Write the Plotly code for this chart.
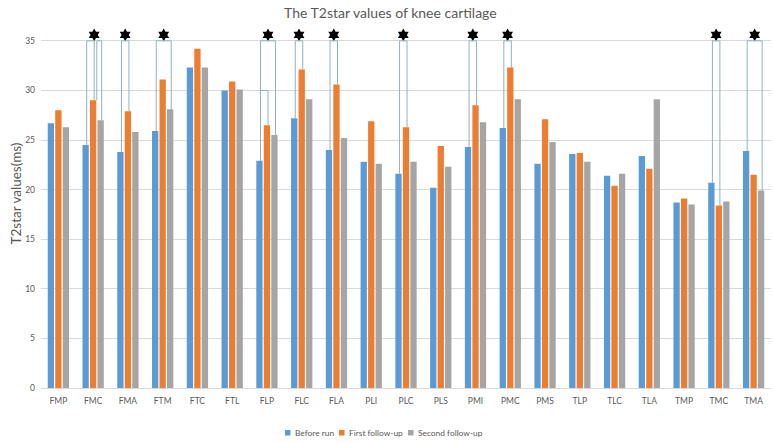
import plotly.graph_objects as go

# ---------------- data ----------------
categories = ["FMP", "FMC", "FMA", "FTM", "FTC", "FTL", "FLP", "FLC", "FLA", "PLI", "PLC",
              "PLS", "PMI", "PMC", "PMS", "TLP", "TLC", "TLA", "TMP", "TMC", "TMA"]
before_run = [26.7, 24.5, 23.8, 25.9, 32.3, 30.0, 22.9, 27.2, 24.0, 22.8, 21.6,
              20.2, 24.3, 26.2, 22.6, 23.6, 21.4, 23.4, 18.7, 20.7, 23.9]
first_follow_up = [28.0, 29.0, 27.9, 31.1, 34.2, 30.9, 26.5, 32.1, 30.6, 26.9, 26.3,
                   24.4, 28.5, 32.3, 27.1, 23.7, 20.4, 22.1, 19.1, 18.4, 21.5]
second_follow_up = [26.3, 27.0, 25.8, 28.1, 32.3, 30.1, 25.5, 29.1, 25.2, 22.6, 22.8,
                    22.3, 26.8, 29.1, 24.8, 22.8, 21.6, 29.1, 18.5, 18.8, 19.9]
series_names = ["Before run", "First follow-up", "Second follow-up"]
y_ticks = [0, 5, 10, 15, 20, 25, 30, 35]

# significance brackets: (category, left series index, right series index, level)
brackets = [("FMC", 0, 1, 35), ("FMC", 1, 2, 35), ("FMA", 0, 1, 35), ("FTM", 0, 2, 35),
            ("FLP", 0, 2, 35), ("FLP", 0, 1, 30), ("FLC", 0, 1, 35), ("FLA", 0, 1, 35),
            ("PLC", 0, 1, 35), ("PMI", 0, 1, 35), ("PMC", 0, 1, 35), ("TMC", 0, 1, 35),
            ("TMA", 0, 2, 35)]

# ---------------- style ----------------
colors = ["#5B9BD5", "#ED7D31", "#A5A5A5"]
FONT = "Lato, 'Open Sans', sans-serif"
TXT = "#595959"
BRACKET_COLOR = "#8DB3C3"
BARGAP, BARGROUPGAP = 0.353, 0.16
SLOT = (1 - BARGAP) / 3
NUDGE = 0.03
W, H = 773, 442
ML, MR, MT, MB = 41, 2, 21, 54

series = [before_run, first_follow_up, second_follow_up]
xs = list(range(len(categories)))

fig = go.Figure()
for name, vals, col in zip(series_names, series, colors):
    fig.add_trace(go.Bar(x=xs, y=vals, name=name, marker_color=col,
                         marker_line_width=0, showlegend=False))

# brackets
shapes = []
star_spans = {}
right_ends = {}
for cat, a, b, lvl in brackets:
    right_ends.setdefault((cat, lvl), set()).add(b)
for cat, a, b, lvl in brackets:
    i = categories.index(cat)
    extra = 0.075 if a in right_ends.get((cat, lvl), set()) else 0.0
    xl = i + (a - 1) * SLOT + NUDGE + extra
    xr = i + (b - 1) * SLOT + NUDGE
    yl = series[a][i]
    yr = series[b][i]
    line = dict(color=BRACKET_COLOR, width=1)
    shapes.append(dict(type="line", xref="x", yref="y", x0=xl, x1=xl, y0=yl, y1=lvl, line=line))
    shapes.append(dict(type="line", xref="x", yref="y", x0=xr, x1=xr, y0=yr, y1=lvl, line=line))
    shapes.append(dict(type="line", xref="x", yref="y", x0=xl, x1=xr, y0=lvl, y1=lvl, line=line))
    if lvl == max(y_ticks):
        lo, hi = star_spans.get(cat, (xl, xr))
        star_spans[cat] = (min(lo, xl), max(hi, xr))

star_x = [(lo + hi) / 2 for lo, hi in star_spans.values()]
fig.add_trace(go.Scatter(x=star_x, y=[35.6] * len(star_x), mode="markers",
                         marker=dict(symbol="hexagram", size=9.5, color="black"),
                         cliponaxis=False, showlegend=False, hoverinfo="skip"))

# custom legend (Excel-like compact)
plot_w = W - ML - MR
plot_h = H - MT - MB
def px_x(px):
    return (px - ML) / plot_w
def px_y(py):
    return (H - MB - py) / plot_h

legend_pos = [285, 339, 408]
annotations = []
for name, col, lx in zip(series_names, colors, legend_pos):
    shapes.append(dict(type="rect", xref="paper", yref="paper",
                       x0=px_x(lx), x1=px_x(lx + 5.5), y0=px_y(435.5), y1=px_y(430),
                       fillcolor=col, line=dict(width=0)))
    annotations.append(dict(text=name, xref="paper", yref="paper", x=px_x(lx + 7.5), y=px_y(432.8),
                            xanchor="left", yanchor="middle", showarrow=False,
                            font=dict(family=FONT, size=8.4, color=TXT)))

# y-axis title
annotations.append(dict(text="T2star values(ms)", xref="paper", yref="paper",
                        x=px_x(15.5), y=px_y(194), xanchor="center", yanchor="middle",
                        textangle=-90, showarrow=False,
                        font=dict(family=FONT, size=13.5, color=TXT)))

fig.update_layout(
    width=W, height=H,
    margin=dict(l=ML, r=MR, t=MT, b=MB),
    paper_bgcolor="white", plot_bgcolor="white",
    barmode="group", bargap=BARGAP, bargroupgap=BARGROUPGAP,
    title=dict(text="The T2star values of knee cartilage", x=0.505, xanchor="center",
               y=1 - 13 / H, yanchor="middle", yref="container",
               font=dict(family=FONT, size=14, color=TXT)),
    font=dict(family=FONT, color=TXT),
    shapes=shapes, annotations=annotations,
    showlegend=False,
)
fig.update_xaxes(range=[-0.5, len(categories) - 0.5], tickvals=xs, ticktext=categories,
                 showgrid=False, zeroline=False, showline=True, linecolor="#D9D9D9",
                 ticks="", tickfont=dict(family=FONT, size=8.5, color=TXT), ticklabelstandoff=5)
fig.update_yaxes(range=[0, 37], tickvals=y_ticks, showgrid=True, gridcolor="#D9D9D9",
                 zeroline=False, showline=False, ticks="",
                 tickfont=dict(family=FONT, size=8.5, color=TXT), ticklabelstandoff=5)

fig.write_html("out.html", config={"displayModeBar": False},
               post_script="document.body.style.margin='0';document.body.style.overflow='hidden';")
